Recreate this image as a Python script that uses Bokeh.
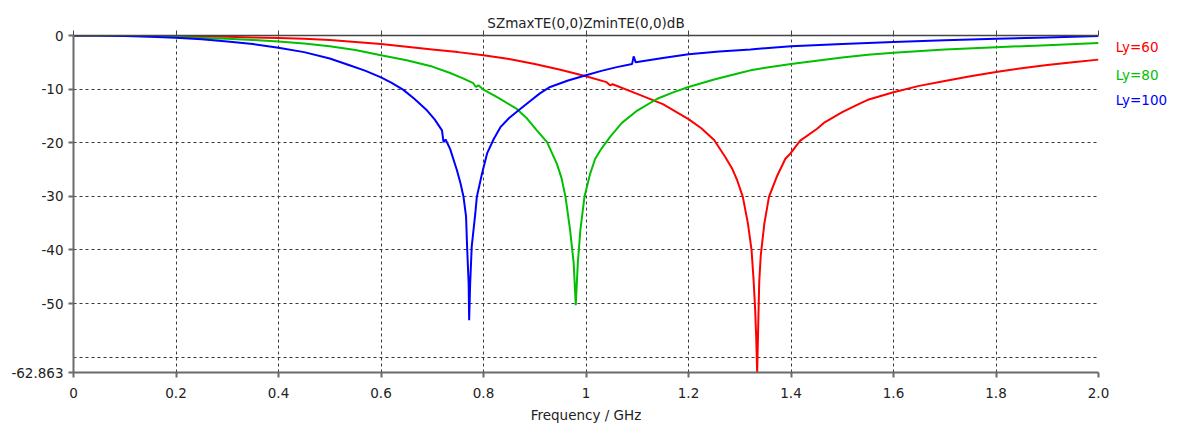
from bokeh.plotting import figure
from bokeh.layouts import row
from bokeh.models import LinearAxis, FixedTicker, Range1d
from bokeh.core.properties import value
from bokeh.embed import file_html
from bokeh.resources import INLINE

# ---- data ----
freq_60 = [0.0, 0.05, 0.1, 0.15, 0.2, 0.25, 0.3, 0.35, 0.4, 0.45, 0.5, 0.55, 0.6, 0.65, 0.7, 0.75, 0.8,
           0.85, 0.9, 0.95, 1.0, 1.04, 1.047, 1.052, 1.1, 1.15, 1.2, 1.225, 1.25, 1.272, 1.285, 1.295,
           1.306, 1.316, 1.323, 1.327, 1.330, 1.332, 1.334, 1.336, 1.338, 1.341, 1.348, 1.357, 1.372,
           1.389, 1.399, 1.418, 1.451, 1.464, 1.5, 1.536, 1.55, 1.6, 1.65, 1.7, 1.75, 1.8, 1.85, 1.9,
           1.95, 2.0]
db_60 = [0.0, 0.0, -0.02, -0.05, -0.1, -0.17, -0.25, -0.35, -0.45, -0.6, -0.85, -1.2, -1.6, -2.1, -2.6,
         -3.1, -3.7, -4.4, -5.3, -6.4, -7.6, -8.7, -9.3, -9.1, -10.9, -12.8, -15.6, -17.3, -19.5, -22.7,
         -24.8, -27.0, -30.1, -35.1, -40.0, -45.6, -51.0, -56.0, -62.863, -54.3, -46.0, -41.0, -35.1,
         -30.1, -26.4, -23.0, -22.0, -19.6, -17.4, -16.3, -14.3, -12.6, -12.0, -10.6, -9.4, -8.5, -7.6,
         -6.8, -6.1, -5.5, -5.0, -4.5]

freq_80 = [0.0, 0.05, 0.1, 0.15, 0.2, 0.25, 0.3, 0.35, 0.4, 0.45, 0.5, 0.55, 0.6, 0.65, 0.7, 0.735, 0.76,
           0.78, 0.785, 0.79, 0.8, 0.83, 0.865, 0.885, 0.904, 0.924, 0.943, 0.952, 0.96, 0.969, 0.976,
           0.980, 0.984, 0.989, 0.997, 1.008, 1.018, 1.028, 1.047, 1.07, 1.1, 1.139, 1.17, 1.2, 1.25,
           1.3, 1.321, 1.35, 1.4, 1.45, 1.5, 1.55, 1.6, 1.7, 1.8, 1.9, 2.0]
db_80 = [0.0, 0.0, -0.05, -0.15, -0.3, -0.45, -0.6, -0.85, -1.1, -1.5, -2.0, -2.7, -3.7, -4.6, -5.8,
         -7.0, -8.0, -8.9, -9.6, -9.3, -10.1, -11.7, -13.7, -15.5, -17.7, -19.9, -23.9, -26.5, -30.1,
         -36.3, -42.5, -50.3, -42.5, -36.3, -30.1, -25.8, -23.0, -21.4, -18.9, -16.3, -14.0, -11.8,
         -10.6, -9.6, -8.2, -7.0, -6.5, -6.0, -5.3, -4.7, -4.1, -3.6, -3.2, -2.6, -2.2, -1.8, -1.4]

freq_100 = [0.0, 0.05, 0.1, 0.15, 0.2, 0.25, 0.3, 0.35, 0.4, 0.45, 0.5, 0.54, 0.57, 0.6, 0.62, 0.643,
            0.665, 0.69, 0.705, 0.719, 0.722, 0.726, 0.735, 0.748, 0.755, 0.761, 0.766, 0.768, 0.771,
            0.772, 0.774, 0.777, 0.784, 0.787, 0.797, 0.807, 0.82, 0.833, 0.85, 0.868, 0.89, 0.91,
            0.93, 0.965, 1.0, 1.03, 1.06, 1.09, 1.093, 1.097, 1.15, 1.2, 1.26, 1.321, 1.4, 1.5, 1.6,
            1.7, 1.8, 1.9, 2.0]
db_100 = [0.0, 0.0, -0.1, -0.25, -0.4, -0.7, -1.1, -1.6, -2.3, -3.1, -4.3, -5.6, -6.6, -7.8, -8.8,
          -10.1, -11.8, -14.0, -15.7, -17.7, -19.9, -19.4, -21.2, -25.1, -27.5, -30.1, -33.8, -39.4,
          -46.2, -53.1, -46.2, -39.4, -33.2, -30.1, -25.8, -22.0, -19.3, -17.1, -15.4, -14.0, -12.3,
          -10.8, -9.6, -8.4, -7.4, -6.6, -5.9, -5.3, -3.9, -5.0, -4.2, -3.5, -3.0, -2.6, -2.0, -1.6,
          -1.2, -0.9, -0.6, -0.35, -0.1]

series_names = ["Ly=60", "Ly=80", "Ly=100"]
series_colors = ["#ff0000", "#00c000", "#0000ff"]
legend_y = [-2.2, -7.3, -12.1]

x_ticks = [0.0, 0.2, 0.4, 0.6, 0.8, 1.0, 1.2, 1.4, 1.6, 1.8, 2.0]
x_tick_labels = ["0", "0.2", "0.4", "0.6", "0.8", "1", "1.2", "1.4", "1.6", "1.8", "2.0"]
y_grid = [0, -10, -20, -30, -40, -50, -60, -62.863]
y_ticks = [0, -10, -20, -30, -40, -50, -62.863]
y_tick_labels = ["0", "-10", "-20", "-30", "-40", "-50", "-62.863"]

title_text = "SZmaxTE(0,0)ZminTE(0,0)dB"
x_label = "Frequency / GHz"

FONT = "DejaVu Sans"
FS = "13.5px"
TOP, BOTTOM = 35, 58

p = figure(width=1112, height=430, output_backend="svg", toolbar_location=None,
           x_range=Range1d(0, 2.0), y_range=Range1d(-62.863, 0),
           min_border_left=73, min_border_right=14, min_border_top=TOP, min_border_bottom=BOTTOM,
           title=title_text)
p.outline_line_color = None
p.background_fill_color = "white"
p.border_fill_color = "white"

p.title.align = "center"
p.title.text_font = FONT
p.title.text_font_size = FS
p.title.text_font_style = "normal"
p.title.text_color = "#222222"
p.title.standoff = 0

for g in (p.xgrid, p.ygrid):
    g.grid_line_color = "#3a3a3a"
    g.grid_line_dash = "3 3"
    g.grid_line_width = 1
p.xgrid.ticker = FixedTicker(ticks=x_ticks)
p.ygrid.ticker = FixedTicker(ticks=y_grid)

xa = p.xaxis[0]
xa.ticker = FixedTicker(ticks=x_ticks)
xa.major_label_overrides = {t: l for t, l in zip(x_ticks, x_tick_labels)}
xa.axis_label = x_label
xa.axis_label_text_font = FONT
xa.axis_label_text_font_style = "normal"
xa.axis_label_text_font_size = FS
xa.axis_label_text_color = "#222222"
xa.axis_label_standoff = 6

ya = p.yaxis[0]
ya.ticker = FixedTicker(ticks=y_ticks)
ya.major_label_overrides = {t: l for t, l in zip(y_ticks, y_tick_labels)}

for ax in (xa, ya):
    ax.axis_line_color = "#6a6a6a"
    ax.axis_line_width = 2
    ax.major_tick_line_color = "#6a6a6a"
    ax.major_tick_line_width = 2
    ax.major_tick_out = 5
    ax.major_tick_in = 0
    ax.minor_tick_line_color = None
    ax.major_label_text_font = FONT
    ax.major_label_text_font_size = FS
    ax.major_label_text_color = "#222222"
xa.major_label_standoff = 10
ya.major_label_standoff = 5

top = LinearAxis(ticker=FixedTicker(ticks=x_ticks))
top.major_label_text_font_size = "1px"
top.major_label_text_color = None
top.major_label_standoff = 9
top.axis_line_color = "#444444"
top.axis_line_width = 1.5
top.major_tick_line_color = "#444444"
top.major_tick_out = 5
top.major_tick_in = 0
top.minor_tick_line_color = None
p.add_layout(top, "above")

for fx, dy, c in zip([freq_60, freq_80, freq_100], [db_60, db_80, db_100], series_colors):
    p.line(fx, dy, line_color=c, line_width=2)

# legend panel to the right, sharing the y scale
leg = figure(width=65, height=430, output_backend="svg", toolbar_location=None,
             x_range=Range1d(0, 1), y_range=p.y_range,
             min_border_left=0, min_border_right=0, min_border_top=TOP, min_border_bottom=BOTTOM)
leg.axis.visible = False
leg.grid.visible = False
leg.outline_line_color = None
leg.border_fill_color = "white"
leg.text(x=[0.05] * 3, y=legend_y, text=series_names, text_color=series_colors,
         text_font=value(FONT), text_font_size=FS, text_baseline="middle", text_align="left")

layout = row(p, leg, spacing=0)
open("out.html", "w").write(file_html(layout, INLINE))
